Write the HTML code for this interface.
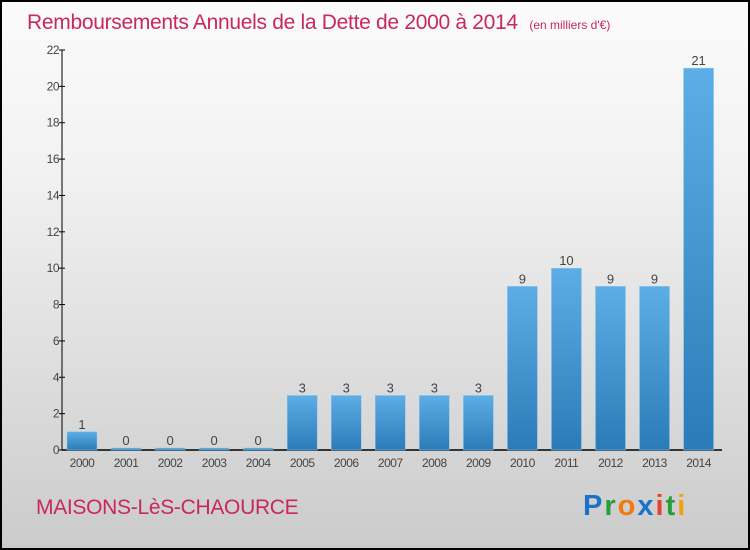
<!DOCTYPE html>
<html><head><meta charset="utf-8"><style>
html,body{margin:0;padding:0;}
body{width:750px;height:550px;overflow:hidden;}
#wrap{position:relative;width:746px;height:546px;border:2px solid #000;background:linear-gradient(#fbfbfb,#f2f2f2 30%,#dcdcdc 70%,#cbcbcb);font-family:"Liberation Sans",sans-serif;}
svg{position:absolute;left:-2px;top:-2px;}
</style></head><body>
<div id="wrap">
<svg id="chart" width="750" height="550">
<defs><linearGradient id="bg" x1="0" y1="0" x2="0" y2="1"><stop offset="0" stop-color="#5dade6"/><stop offset="1" stop-color="#2b7bb8"/></linearGradient></defs>
<text x="27" y="29" font-size="21" fill="#c8285a" letter-spacing="-0.3">Remboursements Annuels de la Dette de 2000 à 2014 <tspan font-size="12" dx="6" letter-spacing="0">(en milliers d'€)</tspan></text>
<text x="36" y="514" font-size="21" fill="#c8285a" letter-spacing="-0.3">MAISONS-LèS-CHAOURCE</text>
<g font-size="29" font-weight="bold" font-family="Liberation Sans,sans-serif">
<text x="583" y="515" fill="#1a73c8" letter-spacing="2">P<tspan fill="#2a9d3a">r</tspan><tspan fill="#f07a10">o</tspan><tspan fill="#1a73c8">x</tspan><tspan fill="#e8402a">i</tspan><tspan fill="#2a9d3a">t</tspan><tspan fill="#f0a010">i</tspan></text>
</g>
<g id="axes"></g><g id="bars"></g>
</svg>
</div>
<script>
const years=["2000","2001","2002","2003","2004","2005","2006","2007","2008","2009","2010","2011","2012","2013","2014"];
const values=[1,0,0,0,0,3,3,3,3,3,9,10,9,9,21];
const yTicks=[0,2,4,6,8,10,12,14,16,18,20,22];
const NS="http://www.w3.org/2000/svg";
const y0=450,yTop=50,yMax=22,x0=62,step=44.04,firstC=82,bw=30;
const Y=v=>y0-(v/yMax)*(y0-yTop);
const X=i=>firstC+i*step;
function mk(t,a,p){const e=document.createElementNS(NS,t);for(const k in a)e.setAttribute(k,a[k]);p.appendChild(e);return e;}
const ax=document.getElementById('axes'),bars=document.getElementById('bars');
let l=mk('line',{x1:x0,y1:yTop,x2:x0,y2:y0,stroke:'#000','stroke-width':1},ax);


l=mk('line',{x1:x0,y1:y0,x2:722,y2:y0,stroke:'#000','stroke-width':1.5},ax);


yTicks.forEach(v=>{
 const tk=mk('line',{x1:x0-3,y1:Y(v),x2:x0+3,y2:Y(v),stroke:'#000'},ax);
 
 
 const t=mk('text',{x:x0-3,y:Y(v)+4,'text-anchor':'end','font-size':12,fill:'#444','letter-spacing':-0.5},ax);
 t.textContent=v;
 
 
});
years.forEach((yr,i)=>{
 const v=values[i],cx=X(i);
 const h=Math.max(y0-Y(v),2);
 const r=mk('rect',{x:cx-bw/2,y:y0-h,width:bw,height:h,fill:'url(#bg)',stroke:'#8cc8f0','stroke-width':0.5},bars);
 
 
 const vl=mk('text',{x:cx,y:y0-h-3,'text-anchor':'middle','font-size':13,fill:'#444'},bars);
 vl.textContent=v;
 
 
 const xl=mk('text',{x:cx,y:467,'text-anchor':'middle','font-size':12,fill:'#444','letter-spacing':-0.5},bars);
 xl.textContent=yr;
 
 
});
</script>
</body></html>
